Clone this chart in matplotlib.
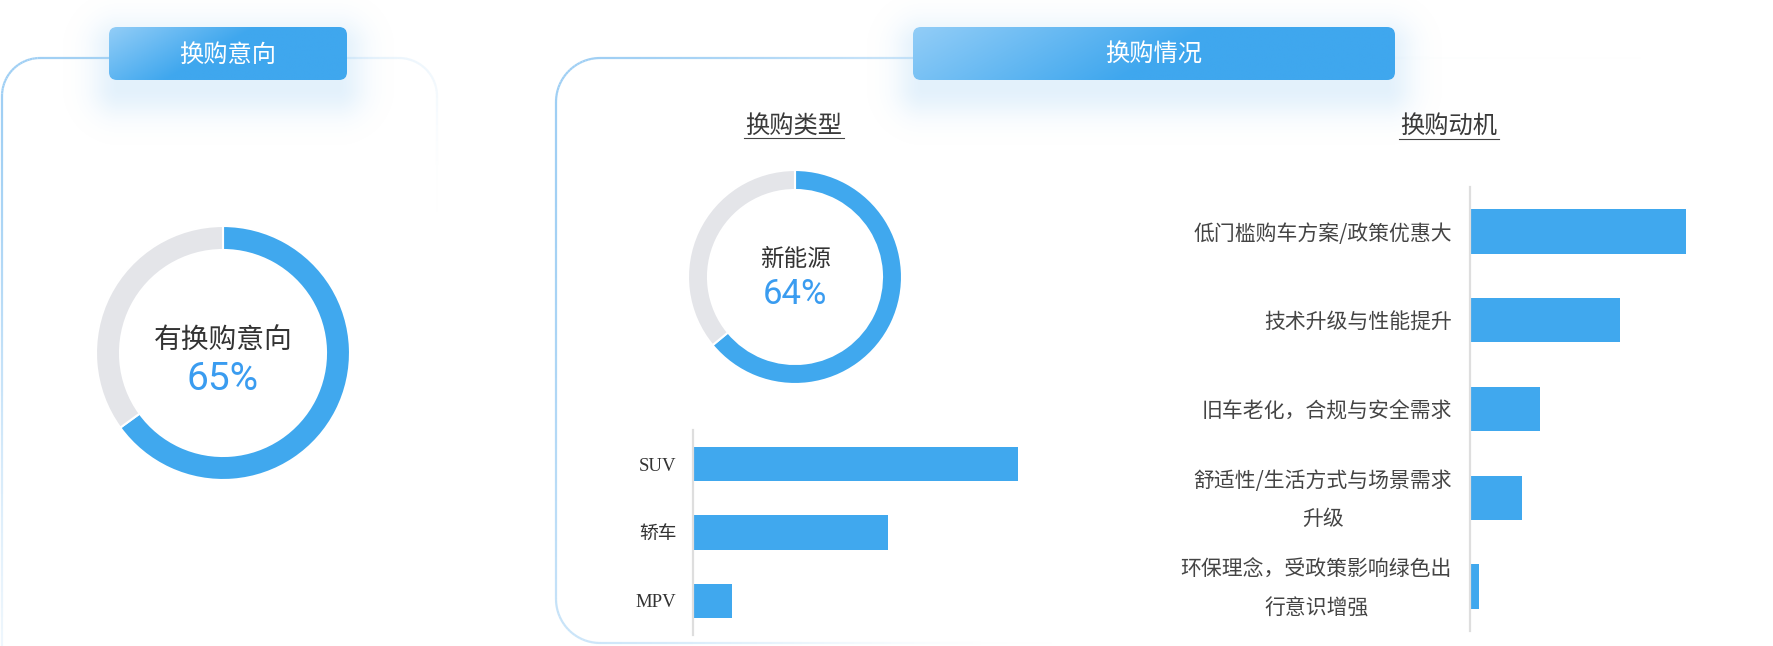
import numpy as np
import matplotlib
matplotlib.use("Agg")
import matplotlib.pyplot as plt
from matplotlib.patches import FancyBboxPatch
from matplotlib.collections import LineCollection
from matplotlib.colors import to_rgb
from matplotlib.transforms import ScaledTranslation

plt.rcParams['font.family'] = ['Noto Sans CJK SC', 'DejaVu Sans']

# ---------------- data ----------------
intent_labels = ['有换购意向', '其他']
intent_values = [65, 35]
energy_labels = ['新能源', '其他']
energy_values = [64, 36]
type_labels = ['SUV', '轿车', 'MPV']
type_values = [50, 30, 6]
motive_labels = ['低门槛购车方案/政策优惠大', '技术升级与性能提升', '旧车老化，合规与安全需求',
                 '舒适性/生活方式与场景需求\n升级', '环保理念，受政策影响绿色出\n行意识增强']
motive_values = [43.2, 30, 14, 10.4, 1.8]

BLUE = '#40a8ee'
GREY = '#e4e5e9'
W, H = 1773, 646

fig = plt.figure(figsize=(W / 100, H / 100), dpi=100)
fig.patch.set_facecolor('white')

bg = fig.add_axes([0, 0, 1, 1])
bg.set_xlim(0, W)
bg.set_ylim(H, 0)
bg.axis('off')


def rect(x0, y0, x1, y1):
    return [x0 / W, 1 - y1 / H, (x1 - x0) / W, (y1 - y0) / H]


# ---------------- panel borders (fading) ----------------
def rounded_pts(x0, y0, x1, y1, r, n=300):
    def arc(cx, cy, a0, a1):
        t = np.linspace(a0, a1, 24)
        return np.column_stack([cx + r * np.cos(t), cy + r * np.sin(t)])
    segs = [
        np.column_stack([np.linspace(x0 + r, x1 - r, n), np.full(n, y0)]),
        arc(x1 - r, y0 + r, -np.pi / 2, 0),
        np.column_stack([np.full(n, x1), np.linspace(y0 + r, y1 - r, n)]),
        arc(x1 - r, y1 - r, 0, np.pi / 2),
        np.column_stack([np.linspace(x1 - r, x0 + r, n), np.full(n, y1)]),
        arc(x0 + r, y1 - r, np.pi / 2, np.pi),
        np.column_stack([np.full(n, x0), np.linspace(y1 - r, y0 + r, n)]),
        arc(x0 + r, y0 + r, np.pi, 1.5 * np.pi),
    ]
    return np.vstack(segs)


def draw_border(x0, y0, x1, y1, r, Lx, Ly0, Ly1, a0):
    pts = rounded_pts(x0, y0, x1, y1, r)
    segs = np.stack([pts[:-1], pts[1:]], axis=1)
    mid = segs.mean(axis=1)
    dx = mid[:, 0] - x0
    dy = mid[:, 1] - y0
    ly = Ly0 * np.clip(1 - dx / Lx, 0, 1) + Ly1
    a = a0 * np.exp(-(dx / (Lx * 0.62)) ** 2) * np.exp(-(dy / ly) ** 2)
    c = np.array(to_rgb('#9fcff4'))
    cols = np.column_stack([np.tile(c, (len(a), 1)), a])
    lc = LineCollection(segs, colors=cols, linewidths=1.6, zorder=1, capstyle='butt',
                        joinstyle='miter', antialiaseds=True)
    bg.add_collection(lc)


draw_border(2, 58, 437, 720, 38, 500, 420, 20, 1.0)
draw_border(556, 58, 1760, 643, 44, 700, 700, 60, 1.0)

# ---------------- glow under title boxes ----------------
yy, xx = np.mgrid[0:H, 0:W]
glow = np.zeros((H, W))
for (bx0, by0, bx1, by1) in [(109, 27, 347, 80), (913, 27, 1395, 80)]:
    cx, cy = (bx0 + bx1) / 2, (by0 + by1) / 2 + 14
    hw, hh = (bx1 - bx0) / 2 - 10, (by1 - by0) / 2 - 6
    dx = np.maximum(np.abs(xx - cx) - hw, 0)
    dy = np.maximum(np.abs(yy - cy) - hh, 0)
    dd = np.hypot(dx, dy)
    glow = np.maximum(glow, 0.24 * np.exp(-(dd / 28.0) ** 2))
gimg = np.zeros((H, W, 4))
gimg[..., :3] = to_rgb('#8cc6f2')
gimg[..., 3] = glow
bg.imshow(gimg, extent=(0, W, H, 0), zorder=2, interpolation='bilinear', aspect='auto')

# ---------------- title boxes ----------------
c_light = np.array(to_rgb('#92cdf7'))
c_dark = np.array(to_rgb('#3fa7ee'))


def title_box(x0, y0, x1, y1, text):
    w, h = x1 - x0, y1 - y0
    patch = FancyBboxPatch((x0, y0), w, h, boxstyle='round,pad=0,rounding_size=8',
                           facecolor='none', edgecolor='none', zorder=3)
    bg.add_patch(patch)
    gx = np.linspace(0, 1, 200)[None, :]
    gy = np.linspace(0, 1, 40)[:, None]
    t = np.clip((gx * w * 0.9 + gy * h * 1.5) / (w * 0.55), 0, 1)
    img = c_light[None, None, :] * (1 - t[..., None]) + c_dark[None, None, :] * t[..., None]
    im = bg.imshow(img, extent=(x0, x1, y1, y0), zorder=3, interpolation='bilinear', aspect='auto')
    im.set_clip_path(patch)
    bg.text((x0 + x1) / 2, (y0 + y1) / 2 + 1, text, color='white', fontsize=17.5,
            ha='center', va='center', zorder=4)


title_box(109, 27, 347, 80, '换购意向')
title_box(913, 27, 1395, 80, '换购情况')

# ---------------- subtitles ----------------
for cx, cy, s in [(794, 126, '换购类型'), (1449, 127, '换购动机')]:
    bg.text(cx, cy, s, fontsize=17.5, color='#3a3a3a', ha='center', va='center', zorder=4)
    bg.plot([cx - 50, cx + 50], [cy + 12, cy + 12], color='#444444', lw=0.8, zorder=4)


# ---------------- donuts ----------------
def donut(cx, cy, r, width, values, label, pct, fs_label, fs_pct, dy_label, dy_pct):
    ax = fig.add_axes(rect(cx - r, cy - r, cx + r, cy + r))
    ax.pie(values, colors=[BLUE, GREY], startangle=90, counterclock=False, radius=1,
           wedgeprops=dict(width=width / r, edgecolor='white', linewidth=1.5))
    ax.set_xlim(-1, 1)
    ax.set_ylim(-1, 1)
    ax.set_aspect('equal')
    ax.axis('off')
    ax.patch.set_alpha(0)
    bg.text(cx, cy + dy_label, label, fontsize=fs_label, color='#333333', ha='center', va='center', zorder=5)
    bg.text(cx, cy + dy_pct, pct, fontsize=fs_pct, color='#3a9cf0', ha='center', va='center',
            family=['Roboto', 'DejaVu Sans'], fontweight='normal', zorder=5)


donut(223, 353, 127, 24, intent_values, intent_labels[0], f'{intent_values[0]}%', 20, 28, -13, 27)
donut(795, 277, 107, 20, energy_values, energy_labels[0], f'{energy_values[0]}%', 17, 25, -17, 18)

# ---------------- bar chart: types ----------------
ax1 = fig.add_axes(rect(693, 430, 1050, 635))
y1 = np.arange(len(type_labels))
ax1.barh(y1, type_values, height=0.5, color=BLUE, zorder=2)
ax1.set_xlim(0, 357 / 6.5)
ax1.set_ylim(len(type_labels) - 0.5, -0.5)
ax1.set_yticks(y1)
ax1.set_yticklabels(type_labels, family=['Liberation Serif', 'Noto Sans CJK SC'], fontsize=13.5, color='#333333')
ax1.tick_params(axis='y', length=0, pad=12)
ax1.set_xticks([])
for s in ['top', 'right', 'bottom']:
    ax1.spines[s].set_visible(False)
ax1.spines['left'].set_color('#dedede')
ax1.spines['left'].set_linewidth(1.6)
ax1.patch.set_alpha(0)

# ---------------- bar chart: motives ----------------
ax2 = fig.add_axes(rect(1470, 187, 1740, 631))
y2 = np.arange(len(motive_labels))
ax2.barh(y2, motive_values, height=0.5, color=BLUE, zorder=2)
ax2.set_xlim(0, 54)
ax2.set_ylim(len(motive_labels) - 0.5, -0.5)
ax2.set_yticks(y2)
ax2.set_yticklabels(motive_labels, fontsize=15, color='#444444')
ax2.tick_params(axis='y', length=0, pad=13)
for lab in ax2.get_yticklabels():
    lab.set_multialignment('center')
    lab.set_linespacing(1.95)
    if '\n' in lab.get_text():
        lab.set_transform(lab.get_transform() + ScaledTranslation(0, 8 / 100, fig.dpi_scale_trans))
ax2.set_xticks([])
for s in ['top', 'right', 'bottom']:
    ax2.spines[s].set_visible(False)
ax2.spines['left'].set_color('#dedede')
ax2.spines['left'].set_linewidth(1.6)
ax2.patch.set_alpha(0)

fig.savefig('out.png', dpi=100, facecolor='white')
